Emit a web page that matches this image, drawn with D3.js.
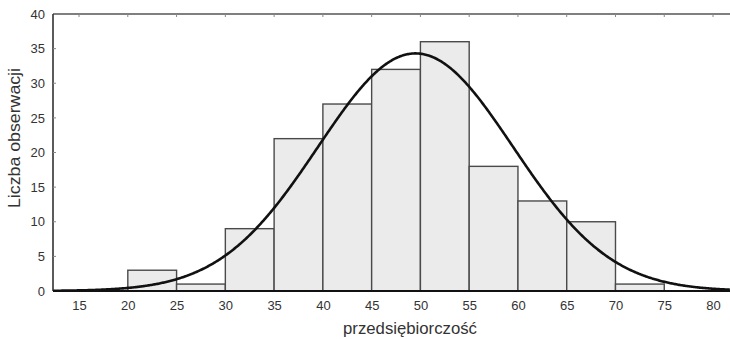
<!DOCTYPE html>
<html>
<head>
<meta charset="utf-8">
<script src="https://cdn.jsdelivr.net/npm/d3@7"></script>
<style>
  html, body { margin: 0; padding: 0; background: #fff; }
  svg { display: block; font-family: "Liberation Sans", Arial, sans-serif; }
</style>
</head>
<body>
<svg id="chart" width="730" height="339"></svg>
<script>
// Histogram of "przedsiębiorczość" scores with fitted normal curve
const binStarts = [15, 20, 25, 30, 35, 40, 45, 50, 55, 60, 65, 70, 75];
const binWidth = 5;
const counts = [0, 3, 1, 9, 22, 27, 32, 36, 18, 13, 10, 1, 0];
const xTicks = [15, 20, 25, 30, 35, 40, 45, 50, 55, 60, 65, 70, 75, 80];
const yTicks = [0, 5, 10, 15, 20, 25, 30, 35, 40];
// fitted normal distribution parameters
const fitMean = 49.5;
const fitSd = 10.0;

const total = d3.sum(counts);

const svg = d3.select("#chart");
const plotL = 53, plotT = 14, plotR = 730, plotB = 291;

const x = d3.scaleLinear().domain([12.33, 81.74]).range([plotL, plotR]);
const y = d3.scaleLinear().domain([0, 40]).range([plotB, plotT]);

// bars
svg.append("g").selectAll("rect")
  .data(binStarts.map((s, i) => ({ s, c: counts[i] })).filter(d => d.c > 0))
  .join("rect")
  .attr("x", d => x(d.s))
  .attr("y", d => y(d.c))
  .attr("width", d => x(d.s + binWidth) - x(d.s))
  .attr("height", d => y(0) - y(d.c))
  .attr("fill", "#ebebeb")
  .attr("stroke", "#4a4a4a")
  .attr("stroke-width", 1.4);

// fitted normal curve scaled to counts
const curvePts = d3.range(12.33, 81.8, 0.1).map(v => {
  const z = (v - fitMean) / fitSd;
  return [v, total * binWidth / (fitSd * Math.sqrt(2 * Math.PI)) * Math.exp(-0.5 * z * z)];
});
svg.append("path")
  .datum(curvePts)
  .attr("fill", "none")
  .attr("stroke", "#111")
  .attr("stroke-width", 2.6)
  .attr("d", d3.line().x(d => x(d[0])).y(d => y(d[1])));

// frame
svg.append("line").attr("x1", plotL).attr("x2", plotR).attr("y1", plotT).attr("y2", plotT)
  .attr("stroke", "#555").attr("stroke-width", 1.5);
svg.append("line").attr("x1", plotL).attr("x2", plotL).attr("y1", plotT).attr("y2", plotB)
  .attr("stroke", "#333").attr("stroke-width", 1.6);
svg.append("line").attr("x1", plotL).attr("x2", plotR).attr("y1", plotB).attr("y2", plotB)
  .attr("stroke", "#111").attr("stroke-width", 2);

// axes
const xAxis = svg.append("g").attr("transform", `translate(0,${plotB})`)
  .call(d3.axisBottom(x).tickValues(xTicks).tickSize(0).tickPadding(10));
xAxis.select(".domain").remove();
xAxis.selectAll("text").attr("font-size", 13).attr("fill", "#333")
  .attr("font-family", "Liberation Sans, Arial, sans-serif");

const yAxis = svg.append("g").attr("transform", `translate(${plotL},0)`)
  .call(d3.axisLeft(y).tickValues(yTicks).tickSize(0).tickPadding(8));
yAxis.select(".domain").remove();
yAxis.selectAll("text").attr("font-size", 13).attr("fill", "#333")
  .attr("font-family", "Liberation Sans, Arial, sans-serif");

// small inner ticks
svg.append("g").selectAll("line").data(yTicks.slice(1, -1)).join("line")
  .attr("x1", plotL).attr("x2", plotL + 3).attr("y1", d => y(d)).attr("y2", d => y(d))
  .attr("stroke", "#888").attr("stroke-width", 1);
svg.append("g").selectAll("line").data(xTicks).join("line")
  .attr("x1", d => x(d)).attr("x2", d => x(d)).attr("y1", plotT).attr("y2", plotT + 3)
  .attr("stroke", "#888").attr("stroke-width", 1);

// axis titles
svg.append("text")
  .attr("x", 410).attr("y", 334)
  .attr("text-anchor", "middle")
  .attr("font-size", 16).attr("fill", "#333")
  .attr("textLength", 134).attr("lengthAdjust", "spacingAndGlyphs")
  .text("przedsiębiorczość");
svg.append("text")
  .attr("transform", "translate(20,138) rotate(-90)")
  .attr("text-anchor", "middle")
  .attr("font-size", 16).attr("fill", "#333")
  .attr("textLength", 140).attr("lengthAdjust", "spacingAndGlyphs")
  .text("Liczba obserwacji");
</script>
</body>
</html>
